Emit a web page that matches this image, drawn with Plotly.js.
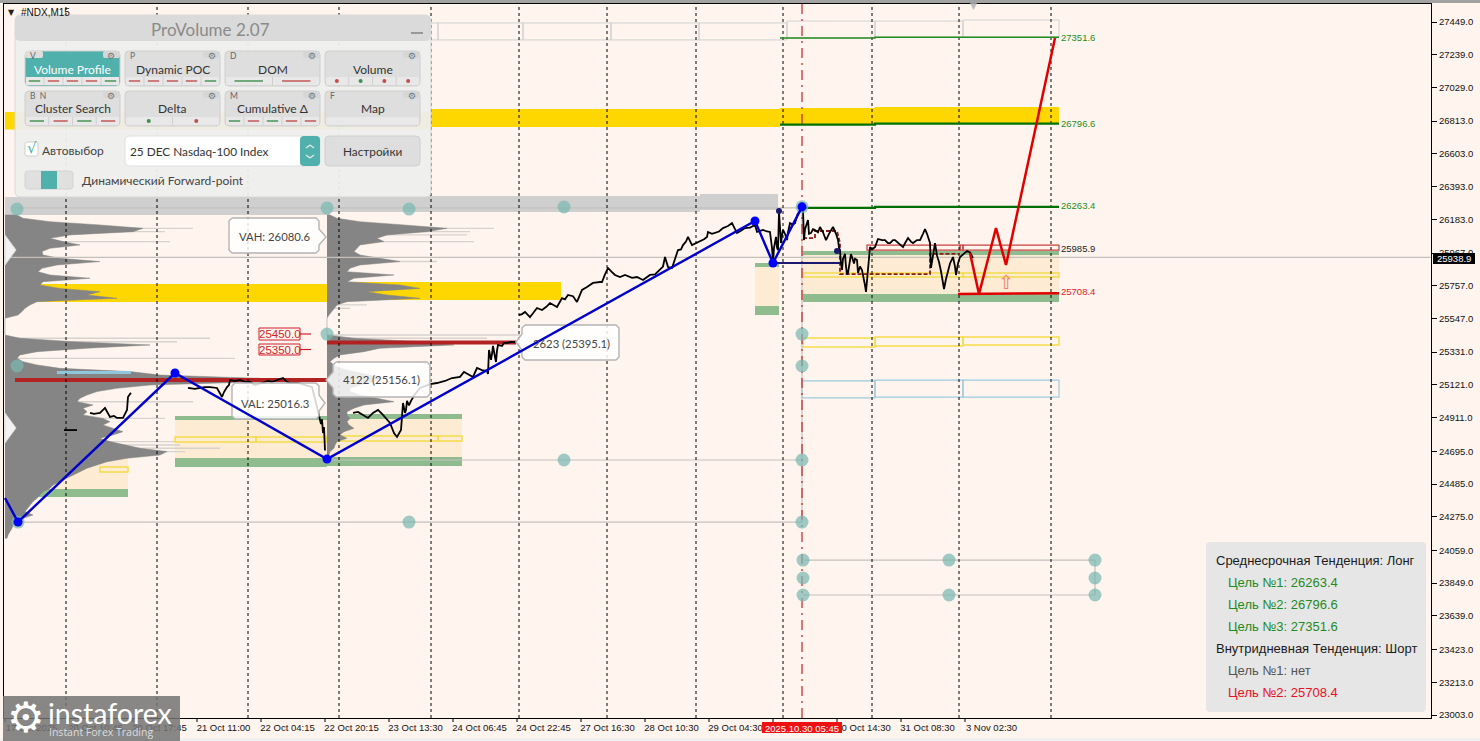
<!DOCTYPE html>
<html><head><meta charset="utf-8">
<script src="https://cdn.plot.ly/plotly-3.0.1.min.js"></script>
<style>html,body{margin:0;padding:0;background:#FFF5EE;overflow:hidden}#chart{width:1480px;height:741px}</style>
</head><body><div id="chart"></div>
<script>
// ---------- axis labels ----------
const yTickValues=[27449,27239,27029,26813,26603,26393,26183,25967,25757,25547,25331,25121,24911,24695,24485,24275,24059,23849,23639,23423,23213,23003];
const xTickBars=[5,69,133,197,261,325,389,453,517,581,645,709,773,837,901,965];
const xTickLabels=["17 Oct 2025","20 Oct 10:45","20 Oct 17:45","21 Oct 11:00","22 Oct 04:15","22 Oct 20:15","23 Oct 13:30","24 Oct 06:45","24 Oct 22:45","27 Oct 16:30","28 Oct 10:30","29 Oct 04:30","","30 Oct 14:30","31 Oct 08:30","3 Nov 02:30"];
const sessionBars=[66,157,248,339,431,519,607,696,783,872,959,1051];
// ---------- price series ----------
const priceBars=[64,77,null,
90,94,100,105,110,114,117,123,127,128,130,131,null,
188,195,200,205,210,214,217,222,224,227,229,230,235,240,245,250,255,262,268,272,278,283,287,290,298,305,312,317,319,318,321,322,323,324,325,null,
353,358,363,368,373,378,383,387,390,394,397,401,402,403,405,406,407,409,411,415,420,425,430,437,445,452,460,464,468,473,477,482,487,488,489,490,491,492,493,495,496,497,498,502,504,507,511,515,null,
519,522,525,530,533,537,542,546,550,557,562,565,568,573,577,579,582,587,593,600,602,605,607,608,612,615,620,625,632,637,643,650,655,660,663,665,668,672,675,678,681,683,686,688,692,696,700,704,707,708,712,715,719,723,728,732,735,737,741,745,750,755,757,760,763,767,770,772,773,774,775,776,777,778,779,780,781,782,783,785,787,788,790,793,795,798,null,
803,804,805,807,808,809,811,813,815,818,820,823,826,829,833,836,838,839,840,841,842,843,845,846,847,848,850,851,852,854,855,857,858,860,862,864,865,866,867,868,869,870,872,875,878,882,885,888,890,893,895,899,903,905,908,911,913,917,920,923,925,927,930,931,933,935,937,939,941,942,943,944,946,948,950,953,955,956,958,960,963,967,970,973];
const priceValues=[24831,24831,null,
24941,24935,24941,24973,24915,24922,24909,24909,24960,25043,25062,25069,null,
25101,25095,25101,25107,25107,25101,25101,25043,25075,25107,25120,25152,25146,25152,25140,25140,25120,25133,25146,25140,25152,25165,25140,25133,25133,25120,25107,24979,24930,24950,24870,24900,24812,24850,24700,null,
24941,24947,24928,24909,24941,24960,24928,24896,24877,24812,24787,24831,24900,25005,24941,24960,25018,24990,25018,25062,25101,25115,25126,25133,25146,25165,25172,25204,25191,25172,25229,25216,25210,25191,25345,25300,25281,25320,25371,25300,25268,25340,25377,25370,25390,25390,25396,25396,null,
25569,25575,25589,25556,25580,25614,25601,25620,25646,25621,25678,25670,25698,25690,25653,25680,25730,25749,25775,25781,25781,25830,25864,25871,25845,25826,25813,25826,25807,25813,25794,25826,25830,25858,25880,25941,25877,25871,25930,25986,25990,26018,26040,26070,26018,26030,26038,26055,26070,26102,26090,26095,26105,26127,26140,26159,26120,26095,26110,26127,26130,26147,26102,26110,26115,26105,26102,26000,25903,26000,26040,26070,26000,25986,26230,26100,26031,26080,26115,26090,26050,26100,26159,26150,26159,26224,null,
26243,26050,26120,26170,26179,26090,26095,26120,26115,26100,26134,26100,26050,26090,26134,26090,26050,26000,25986,25900,25858,25930,25961,25880,25830,25839,25930,25960,25941,25900,25930,25922,25839,25880,25858,25800,25760,25717,25800,25858,25930,26005,25990,26005,26057,26050,26050,26030,26031,26050,26050,26030,26005,26030,26063,26040,26031,26050,26050,26090,26121,26090,26031,25871,25950,26031,25950,25909,25850,25813,25775,25736,25800,25858,25900,25941,25880,25826,25900,25941,25960,25980,25970,25935];
// ---------- zigzag / forecast ----------
const zigzagBars=[5,18,175,327,755,773,802];
const zigzagValues=[24395,24241,25197,24645,26172,25903,26263];
const forecastBars=[970,979,996,1006,1055];
const forecastValues=[25967,25704,26127,25890,27346];
const pocBars=[803,815,815,837,840,840,877,930,930,960];
const pocValues=[26063,26063,26108,26108,26031,25832,25832,25832,25961,25961];
const levelNames=["27351.6","26796.6","26263.4","25985.9","25708.4"];
const levelValues=[27351.6,26796.6,26263.4,25985.9,25708.4];
// ---------- volume profiles ----------
const profileBins=[26211,26190,26168,26147,26125,26104,26083,26061,26040,26019,25997,25976,25954,25933,25912,25890,25869,25847,25826,25805,25783,25762,25740,25719,25698,25676,25655,25634,25612,25591,25569,25548,25527,25505,25484,25462,25441,25420,25398,25377,25356,25334,25313,25291,25270,25249,25227,25206,25184,25163,25142,25120,25099,25078,25056,25035,25013,24992,24971,24949,24928,24906,24885,24864,24842,24821,24800,24778,24757,24735,24714,24693,24671,24650,24628,24607,24586,24564,24543,24522,24500,24479,24457,24436,24415,24393,24372,24350,24329,24308,24286,24265,24244,24222,24201,24179,24158,24137];
const profile1Volume=[12,18,45,95,138,128,65,45,58,75,45,37,38,55,95,52,37,33,45,85,38,35,55,95,82,112,32,25,20,17,13,0,0,0,0,0,0,15,68,145,82,32,15,12,18,32,55,125,155,255,262,145,112,92,82,75,72,88,78,82,78,98,105,98,108,118,108,95,105,122,135,162,155,122,102,92,82,75,68,62,55,48,45,38,35,32,28,25,23,20,28,18,12,8,7,5,3,2];
const profile2Volume=[3,10,33,77,120,100,60,50,57,33,30,27,33,53,73,33,23,20,67,27,20,73,93,40,60,93,20,10,7,5,2,0,0,0,0,0,0,27,93,127,53,37,13,7,3,7,13,27,43,53,47,33,23,23,33,50,67,37,27,20,20,23,20,22,27,17,13,20,10,8,7,3,2,0];
const tail1Bins=[26125,26104,26040,25420,25398,25291,25013,24906,24757,24735,24714,24693];
const tail1Volume=[188,160,165,205,172,230,188,160,170,175,215,180];
const tail2Bins=[26125,26104,26083,26040,25912,25634,25612,25441,25420,25377];
const tail2Volume=[167,143,140,147,110,40,23,193,160,77];
// ---------- zone bands: start, end, top, bottom ----------
const goldStart=[5,430,780,875,5,327], goldEnd=[430,780,875,1059,327,561], goldTop=[26872,26891,26897,26904,25768,25781], goldBottom=[26759,26775,26788,26801,25653,25665];
const greyStart=[5,330,700], greyEnd=[330,700,778], greyTop=[26326,26333,26345], greyBottom=[26211,26230,26243];
const creamStart=[17,175,327,755,803], creamEnd=[128,327,462,779,1059], creamTop=[24703,24896,24902,25877,25954], creamBottom=[24453,24652,24659,25627,25704];
const greenStart=[100,17,175,175,327,327,755,755,803,803], greenEnd=[128,128,327,327,462,462,779,779,1059,1059], greenTop=[24735,24453,24921,24652,24934,24659,25903,25627,25980,25704], greenBottom=[24703,24402,24896,24594,24902,24600,25877,25569,25954,25653];
const amberStart=[100,175,256,327,438,803,875,963,803,875,963], amberEnd=[128,256,327,438,462,875,963,1059,875,963,1059], amberTop=[24594,24787,24787,24793,24793,25422,25428,25428,25839,25839,25839], amberBottom=[24562,24755,24755,24761,24761,25364,25371,25377,25813,25813,25813];
const skyStart=[802,875,963], skyEnd=[875,963,1059], skyTop=[25146,25152,25152], skyBottom=[25037,25043,25043];
const roseStart=[867,960,963], roseEnd=[960,963,1059], roseTop=[26018,26018,26018], roseBottom=[25986,25986,25986];
const pearlStart=[66,74,165,256,347,438,523,611,699,787,875,963], pearlEnd=[74,165,256,347,438,523,611,699,787,875,963,1059], pearlTop=[27443,27443,27443,27443,27443,27443,27443,27443,27443,27455,27455,27462], pearlBottom=[27334,27334,27334,27334,27334,27334,27334,27334,27334,27346,27353,27353];
// ---------- anchors ----------
const anchorBars=[17,327,409,564,17,327,802,802,564,802,409,802,18,803,803,803,949,949,1095,1095,1095,802];
const anchorValues=[26249,26256,26249,26262,25242,25447,25447,25242,24639,24639,24241,24241,24241,23997,23882,23773,23997,23773,23997,23882,23773,26263];

const W=1480,H=741;
const yp=y=>23003+(715-y)*6.4156;           // pixel helper for page furniture only
const fx=x=>x/W, fy=y=>1-y/H;
const traces=[];
function band(s,e,t,b,color,line,lw,op){traces.push({type:'bar',orientation:'h',y:t.map((v,i)=>(v+b[i])/2),width:t.map((v,i)=>v-b[i]),base:s,x:e.map((v,i)=>v-s[i]),
  marker:{color:color,opacity:op===undefined?1:op,line:{color:line||color,width:lw||0}},hoverinfo:'skip',showlegend:false});}
function line(x,y,color,w,dash,mode,extra){traces.push(Object.assign({type:'scatter',mode:mode||'lines',x:x,y:y,line:{color:color,width:w,dash:dash||'solid'},hoverinfo:'skip',showlegend:false,connectgaps:false},extra||{}));}
band(greyStart,greyEnd,greyTop,greyBottom,'#cfcfcf');
band(goldStart,goldEnd,goldTop,goldBottom,'#FFD700');
band(creamStart,creamEnd,creamTop,creamBottom,'#FDEBD3');
band(greenStart,greenEnd,greenTop,greenBottom,'#8FBC8F');
traces.push({type:'bar',orientation:'h',y:tail1Bins,x:tail1Volume,base:5,width:9,marker:{color:'#d6d2ce',line:{width:0}},hoverinfo:'skip',showlegend:false});
traces.push({type:'bar',orientation:'h',y:tail2Bins,x:tail2Volume,base:327,width:9,marker:{color:'#d6d2ce',line:{width:0}},hoverinfo:'skip',showlegend:false});
band(amberStart,amberEnd,amberTop,amberBottom,'rgba(0,0,0,0)','#F5DC4A',1.5);
band(skyStart,skyEnd,skyTop,skyBottom,'rgba(0,0,0,0)','#9CCBE0',1.2);
band(roseStart,roseEnd,roseTop,roseBottom,'rgba(0,0,0,0)','#C8403C',1.2);
band(pearlStart,pearlEnd,pearlTop,pearlBottom,'rgba(0,0,0,0)','#D0D0D0',1);
// volume profiles as filled outlines
function profile(vol,base){const n=vol.length;const xs=[base].concat(vol.map(v=>base+v),[base]);const ys=[profileBins[0]].concat(profileBins.slice(0,n),[profileBins[n-1]]);
 traces.push({type:'scatter',mode:'lines',x:xs,y:ys,fill:'toself',fillcolor:'#858585',line:{color:'#858585',width:0.5},hoverinfo:'skip',showlegend:false});}
profile(profile1Volume,5);
profile(profile2Volume,327);
line([57,131],[25200,25200],'#8FC6DE',3);
line([15,327],[25152,25152],'#B22222',4);
line([327,516],[25393,25393],'#B22222',4);
// thin grey levels
line([17,802,null,327,802,null,17,802,null,4,1431,null,802,802,null,803,1095,null,803,1095,null,1095,1095],
     [26256,26256,null,24639,24639,null,24241,24241,null,25938.9,25938.9,null,26256,24241,null,23997,23997,null,23773,23773,null,23997,23773],'#c4c0bc',1.2);
// session separators
const vx=[],vy=[];sessionBars.forEach(b=>{vx.push(b,b,null);vy.push(22983.75,27564.5,null);});
line(vx,vy,'#000',1,'3px,3px');
line([802,802],[22983.75,27564.5],'#C81E1E',1.2,'10px,5px,2px,5px');
// poc path
line(pocBars,pocValues,'#8B1A1A',1.8,'4px,2px');
// levels
line([780,875,875,1059],[27346,27346,27351.6,27351.6],'#228B22',1.5);
line([780,875,875,1059],[26790,26790,26796.6,26796.6],'#007000',2.2);
line([803,875,875,1059],[26256,26256,26263.4,26263.4],'#007000',2.2);
line([958,1059],[25704,25708.4],'#E00000',2.5);
line([773,840],[25903,25903],'#191970',2.2);
// price
line(priceBars,priceValues,'#000',1.8);
// callouts (page furniture)
function callout(x0,x1,y0,y1,tx,ty,side){let xs,ys;const c=3;
 if(side==='r'){xs=[x0+c,x1-c,x1,x1,tx,x1,x1,x1-c,x0+c,x0,x0,x0+c];ys=[y0,y0,y0+c,ty-8,ty,ty+8,y1-c,y1,y1,y1-c,y0+c,y0];}
 else{xs=[x0+c,x1-c,x1,x1,x1-c,x0+c,x0,x0,tx,x0,x0,x0+c];ys=[y0,y0,y0+c,y1-c,y1,y1,y1-c,ty+8,ty,ty-8,y0+c,y0];}
 traces.push({type:'scatter',mode:'lines',x:xs,y:ys.map(yp),fill:'toself',fillcolor:'rgba(255,255,255,.84)',line:{color:'#b4b4b4',width:1.4},hoverinfo:'skip',showlegend:false});}
callout(229,319,218,253,326,237,'r');
callout(232,319,383,419,325,403,'r');
callout(333,430,362,397,326,380,'l');
callout(522,619,325,360,516,342,'l');
traces.push({type:'scatter',mode:'lines',x:[5,5,16,5,null,5,5,16,5],y:[235,265,250,235,null,413,443,428,413].map(v=>v===null?null:yp(v)),fill:'toself',fillcolor:'#f2f2f2',line:{color:'#d8d8d8',width:1},hoverinfo:'skip',showlegend:false});
// anchors
line(anchorBars,anchorValues,'#000',0,null,'markers',{marker:{size:13,color:'rgba(122,184,178,.72)',line:{width:0}}});
// forecast & zigzag
line(forecastBars,forecastValues,'#E00000',2.5);
line(zigzagBars,zigzagValues,'#0000CD',2.4);
line(zigzagBars.slice(1),zigzagValues.slice(1),'#000',0,null,'markers',{marker:{size:9,color:'#0000FF',line:{width:0}}});
line([779,837],[26236,25980],'#191970',0,null,'markers',{marker:{size:6,color:'#191970',line:{width:0}}});

const shapes=[],ann=[];
function rr(x0,y0,x1,y1,r,fill,lc,op,lw){const X=fx,Y=fy;const d=`M ${X(x0+r)} ${Y(y0)} L ${X(x1-r)} ${Y(y0)} Q ${X(x1)} ${Y(y0)} ${X(x1)} ${Y(y0+r)} L ${X(x1)} ${Y(y1-r)} Q ${X(x1)} ${Y(y1)} ${X(x1-r)} ${Y(y1)} L ${X(x0+r)} ${Y(y1)} Q ${X(x0)} ${Y(y1)} ${X(x0)} ${Y(y1-r)} L ${X(x0)} ${Y(y0+r)} Q ${X(x0)} ${Y(y0)} ${X(x0+r)} ${Y(y0)} Z`;
 shapes.push({type:'path',xref:'paper',yref:'paper',path:d,fillcolor:fill,line:{color:lc||fill,width:lw===undefined?(lc?1:0):lw},opacity:op===undefined?1:op,layer:'above'});}
function seg(x0,y0,x1,y1,c,w){shapes.push({type:'line',xref:'paper',yref:'paper',x0:fx(x0),y0:fy(y0),x1:fx(x1),y1:fy(y1),line:{color:c,width:w||1},layer:'above'});}
function dot(x,y,c){shapes.push({type:'circle',xref:'paper',yref:'paper',x0:fx(x-2),x1:fx(x+2),y0:fy(y-2),y1:fy(y+2),fillcolor:c,line:{width:0},layer:'above'});}
function note(x,y,t,size,color,anchor,fam,bg){ann.push({xref:'paper',yref:'paper',x:fx(x),y:fy(y),text:t,showarrow:false,xanchor:anchor||'left',yanchor:'middle',font:{size:size,color:color,family:fam||'Liberation Sans, sans-serif'},bgcolor:bg||'rgba(0,0,0,0)',borderpad:0});}
// window chrome
shapes.push({type:'rect',xref:'paper',yref:'paper',x0:0,x1:1,y0:fy(3),y1:1,fillcolor:'#a2a2a2',line:{width:0},layer:'above'});
shapes.push({type:'rect',xref:'paper',yref:'paper',x0:0,x1:1,y0:0,y1:fy(738),fillcolor:'#f0f0f0',line:{width:0},layer:'above'});
// x tick marks
xTickBars.forEach(b=>seg(b,718,b,722,'#000',1));
// level tags
const levelY=[37,123,206,249,292], levelCol=['#228B22','#228B22','#228B22','#222','#E02020'];
levelNames.forEach((n,i)=>note(1060,levelY[i],n,9.5,levelCol[i]));
// arrow, top markers
note(1006,282,'⇧',19,'#F08070','center','DejaVu Sans');
note(973,6,'▼',9,'#bdbdbd','center','DejaVu Sans');
note(7,12,'▼',8,'#222','left','DejaVu Sans');
note(20,12,'#NDX,M15',10,'#111');
// callout text
note(274,236,'VAH: 26080.6',11.3,'#444','center','Lato');
note(275,403,'VAL: 25016.3',11.3,'#444','center','Lato');
note(381.5,380,'4122 (25156.1)',11.3,'#444','center','Lato');
note(571,344,'2623 (25395.1)',11.3,'#444','center','Lato');
// support labels
[[328,340,334,'25450.0'],[344,355,349.5,'25350.0']].forEach(a=>{
  shapes.push({type:'rect',xref:'paper',yref:'paper',x0:fx(259),x1:fx(300),y0:fy(a[1]),y1:fy(a[0]),fillcolor:'#FFF5EE',line:{color:'#D01F2A',width:1},layer:'above'});
  seg(300,a[2],311,a[2],'#D01F2A',1.2);
  note(279.5,a[2],a[3],11.5,'#D01F2A','center');
});
// axis tags
note(1436,258.5,'25938.9',9.5,'#fff','left','Liberation Sans');
shapes.push({type:'rect',xref:'paper',yref:'paper',x0:fx(1433),x1:fx(1475),y0:fy(264),y1:fy(253),fillcolor:'#000',line:{width:0},layer:'above'});
shapes.push({type:'rect',xref:'paper',yref:'paper',x0:fx(762),x1:fx(842),y0:fy(733),y1:fy(722),fillcolor:'#EE1111',line:{width:0},layer:'above'});
note(802,728,'2025.10.30 05:45',9.5,'#fff','center');
// info box
rr(1206,542,1426,712,4,'#E6E6E6');
[['Среднесрочная Тенденция: Лонг',1215,560,'#1a1a1a'],['Цель №1: 26263.4',1227,582,'#1F8A1F'],['Цель №2: 26796.6',1227,604,'#1F8A1F'],['Цель №3: 27351.6',1227,626,'#1F8A1F'],['Внутридневная Тенденция: Шорт',1215,648,'#1a1a1a'],['Цель №1: нет',1227,670,'#555'],['Цель №2: 25708.4',1227,692,'#E81123']]
 .forEach(r=>note(r[1],r[2],r[0],13,r[3]));
// watermark
shapes.push({type:'rect',xref:'paper',yref:'paper',x0:fx(3),x1:fx(180),y0:0,y1:fy(696),fillcolor:'rgba(115,115,115,.85)',line:{width:0},layer:'above'});
note(6,717,'⚙',42,'#fff','left','DejaVu Sans');
note(47,713,'instaforex',28.5,'#fff','left','Lato');
note(48,732,'Instant Forex Trading',10.5,'#ddd','left','Open Sans');
// panel
rr(15,15,431,197,6,'#EFEFEF','#d8d8d8',.95);
rr(15,15,431,41,6,'#DADADA');
note(210,29,'ProVolume 2.07',17,'#8a8a8a','center','Lato');
seg(411,33,423,33,'#999',2);
const F='Lato';
function btn(x,y,text,teal,tag,gear){const h=35;
 rr(x,y,x+95,y+h,4,teal?'#50B0AC':'#DEDEDE','#cfcfcf',1);
 shapes.push({type:'rect',xref:'paper',yref:'paper',x0:fx(x+1),x1:fx(x+94),y0:fy(y+h-1),y1:fy(y+h-9),fillcolor:'#E8E8E8',line:{width:0},layer:'above'});
 if(teal)rr(x,y,x+18,y+7,2,'#DEDEDE');
 if(tag)note(x+4,y+5,tag,8.5,'#666','left',F);
 if(gear){rr(x+78,y,x+95,y+7,2,'#D6D6D6');note(x+86.5,y+5,'⚙',9,'#777','center','DejaVu Sans');}
 note(x+47.5,y+18,text,12,teal?'#fff':'#333','center',F);}
const rowA=[['Volume Profile',true,'V',1],['Dynamic POC',false,'P',1],['DOM',false,'D',1],['Volume',false,'',1]];
const rowB=[['Cluster Search',false,'B  N',1],['Delta',false,'',1],['Cumulative Δ',false,'M',1],['Map',false,'F',1]];
rowA.forEach((b,i)=>btn(25+100*i,51,b[0],b[1],b[2],b[3]));
rowB.forEach((b,i)=>btn(25+100*i,91,b[0],b[1],b[2],b[3]));
const G='#3E8E4E',R='#C0504D';
function dashes(x,y,cols){const w=95/cols.length;cols.forEach((c,i)=>{seg(x+i*w+w*.2,y,x+(i+1)*w-w*.2,y,c,1.4);if(i)seg(x+i*w,y-4,x+i*w,y+4,'#cfcfcf',1);});}
function dots(x,y,cols){const w=95/cols.length;cols.forEach((c,i)=>{dot(x+(i+.5)*w,y,c);if(i)seg(x+i*w,y-4,x+i*w,y+4,'#cfcfcf',1);});}
dashes(25,81,[G,R,R,R,G]);dashes(125,81,[R,R,R,R,G]);dashes(225,81,[G,R]);dots(325,81,[R,G,R,R]);
dashes(25,121,[G,R,G,R]);dots(125,121,[G,R]);dashes(225,121,[G,R,G,R,R]);
rr(25,142,38,156,2,'#fff','#cfcfcf');
note(26,148,'√',15,'#50B0AC','left','DejaVu Sans');
note(41,150,'Автовыбор',12,'#444','left',F);
rr(125,136,320,166,5,'#fff','#e0e0e0');
rr(300,136,320,166,4,'#50B0AC');
seg(306,148,310,145,'#eaeaea',1.2);seg(310,145,314,148,'#eaeaea',1.2);
seg(306,155,310,158,'#eaeaea',1.2);seg(310,158,314,155,'#eaeaea',1.2);
note(129,152,'25 DEC Nasdaq-100 Index',11.8,'#333','left',F);
rr(325,136,420,166,4,'#DEDEDE','#cfcfcf');
note(372.5,152,'Настройки',11.8,'#333','center',F);
rr(25,171,73,189,3,'#E0E0E0','#d4d4d4');
shapes.push({type:'rect',xref:'paper',yref:'paper',x0:fx(41),x1:fx(57),y0:fy(189),y1:fy(171),fillcolor:'#50B0AC',line:{width:0},layer:'above'});
note(81,181,'Динамический Forward-point',12,'#444','left',F);

const layout={width:W,height:H,margin:{l:0,r:0,t:0,b:0},paper_bgcolor:'#FFF5EE',plot_bgcolor:'#FFF5EE',showlegend:false,hovermode:false,barmode:'overlay',
 xaxis:{domain:[4/W,1431/W],range:[4,1431],tickmode:'array',tickvals:xTickBars.map(b=>b+26.5),ticktext:xTickLabels,tickangle:0,ticks:'',showgrid:false,zeroline:false,showline:true,mirror:true,linecolor:'#000',linewidth:1,ticklabelstandoff:1,tickfont:{size:9.5,color:'#111',family:'Liberation Sans, sans-serif'},automargin:false},
 yaxis:{domain:[1-718/H,1-4/H],range:[22983.75,27564.5],side:'right',tickmode:'array',tickvals:yTickValues,ticktext:yTickValues.map(v=>v.toFixed(1)),ticks:'outside',ticklen:5,tickcolor:'#000',showgrid:false,zeroline:false,showline:true,mirror:true,linecolor:'#000',linewidth:1,tickfont:{size:9.5,color:'#111',family:'Liberation Sans, sans-serif'},automargin:false},
 shapes:shapes,annotations:ann};
Plotly.newPlot('chart',traces,layout,{displayModeBar:false,staticPlot:true});
</script></body></html>
